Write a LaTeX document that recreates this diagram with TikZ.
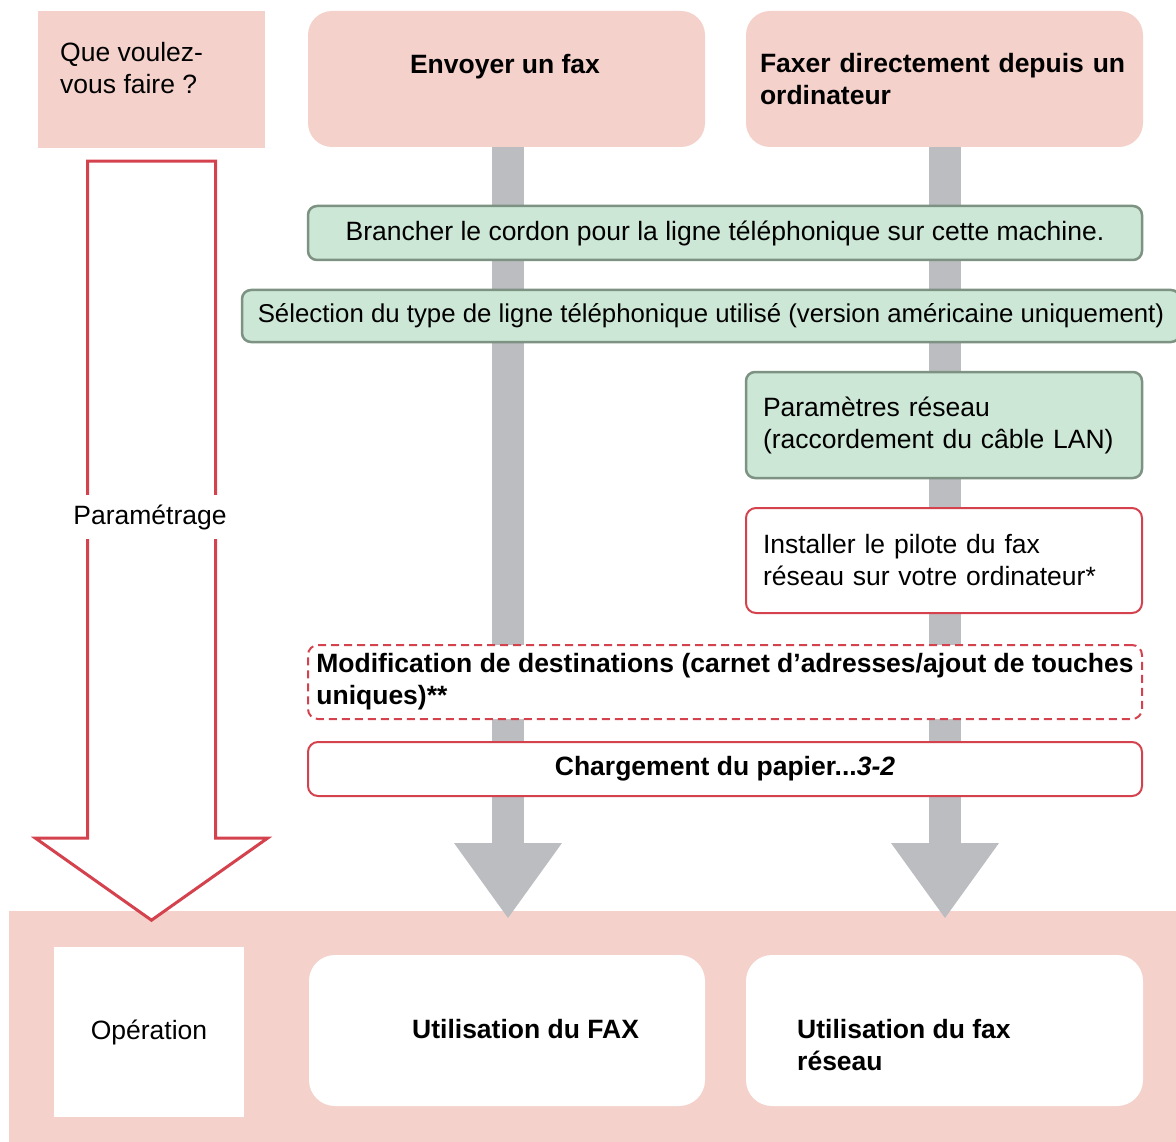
\documentclass[tikz,border=0pt]{standalone}
\usepackage{fontspec}
\setmainfont{Liberation Sans}
\usetikzlibrary{arrows.meta,calc}
\definecolor{pinkFill}{HTML}{F4D2CB}
\definecolor{greenFill}{HTML}{CDE7D6}
\definecolor{greenLine}{HTML}{7D9282}
\definecolor{redLine}{HTML}{D4424E}
\definecolor{barGray}{HTML}{BCBDC0}
\newcommand{\diagfont}{\fontsize{26.5}{32}\selectfont}

\begin{document}
\begin{tikzpicture}[x = 1pt, y = -1pt, font = \diagfont]
\tikzset{
  panel/.style = {rectangle, fill = pinkFill, inner sep = 0},
  topBox/.style = {panel, rounded corners = 24pt},
  greenBox/.style = {rectangle, draw = greenLine, fill = greenFill, line width = 2.5pt, rounded corners = 9pt, inner sep = 2pt},
  redBox/.style = {rectangle, draw = redLine, fill = white, line width = 2pt, rounded corners = 10pt, inner sep = 2pt},
  dashBox/.style = {redBox, dash pattern = on 8pt off 5pt},
  resultBox/.style = {rectangle, fill = white, rounded corners = 26pt, inner sep = 0},
  txt/.style = {inner sep = 0, align = left},
  bold/.style = {font = \diagfont\bfseries},
  bar/.style = {draw = barGray, line width = 32pt, -{Triangle[width = 108pt, length = 75pt, line width = 0pt]}},
  hollowArrow/.style = {draw = redLine, fill = white, line width = 3pt, line join = miter},
}
\useasboundingbox (0, 0) rectangle (1176, 1142);
% bottom row
\node [panel, minimum width = 1181, minimum height = 240] (bottomBand) at (599.5, 1031) {};
\node [rectangle, fill = white, minimum width = 190, minimum height = 170] (operation) at (149, 1032) {Opération};
\node [resultBox, minimum width = 396, minimum height = 151] (useFax) at (507, 1030.5) {};
\node [txt, bold, anchor = west] (useFaxText) at (412, 1029) {Utilisation du FAX};
\node [resultBox, minimum width = 397, minimum height = 151] (useNetFax) at (944.5, 1030.5) {};
\node [txt, bold, anchor = west] (useNetFaxText) at (797, 1045) {Utilisation du fax\\réseau};
% top row
\node [panel, minimum width = 227, minimum height = 137] (wish) at (151.5, 79.5) {};
\node [txt, anchor = west] (wishText) at (60, 68) {Que voulez-\\vous faire ?};
\node [topBox, minimum width = 397, minimum height = 136] (sendFax) at (506.5, 79) {};
\node [txt, bold] (sendFaxText) at (505, 66.5) {Envoyer un fax};
\node [topBox, bold, minimum width = 397, minimum height = 136, text width = 369, inner xsep = 14, align = left] (pcFax) at (944.5, 79) {Faxer directement depuis un\\ordinateur};
% flow arrows
\coordinate (sendTip) at (508, 918);
\coordinate (pcTip) at (945, 918);
\draw [bar] (sendFax.south -| sendTip) -- (sendTip);
\draw [bar] (pcFax.south -| pcTip) -- (pcTip);
\draw [hollowArrow] ($(wish.south) + (-64, 13)$) -- ($(wish.south) + (-64, 690)$) -- ($(wish.south) + (-116, 690)$) -- ($(wish.south) + (0, 772)$) -- ($(wish.south) + (116, 690)$) -- ($(wish.south) + (64, 690)$) -- ($(wish.south) + (64, 13)$) -- cycle;
\node [txt, fill = white, inner xsep = 2, inner ysep = 9] (setup) at (150, 517) {Paramétrage};
% steps
\node [greenBox, minimum width = 834, minimum height = 54] (cord) at (725, 233) {Brancher le cordon pour la ligne téléphonique sur cette machine.};
\node [greenBox, minimum width = 938, minimum height = 52, font = \fontsize{25.8}{31}\selectfont] (lineType) at (711, 316) {Sélection du type de ligne téléphonique utilisé (version américaine uniquement)};
\node [greenBox, minimum width = 396, minimum height = 106, text width = 362, inner xsep = 17, align = left] (network) at (944, 425) {Paramètres réseau\\(raccordement du câble LAN)};
\node [redBox, minimum width = 396, minimum height = 105, text width = 362, inner xsep = 17, align = left] (driver) at (944, 560.5) {Installer le pilote du fax\\réseau sur votre ordinateur*};
\node [dashBox, bold, minimum width = 834, minimum height = 74, align = left] (dest) at (725, 682) {Modification de destinations (carnet d’adresses/ajout de touches\\uniques)**};
\node [redBox, bold, minimum width = 834, minimum height = 54] (paper) at (725, 769) {Chargement du papier...\textit{3-2}};
\end{tikzpicture}
\end{document}
